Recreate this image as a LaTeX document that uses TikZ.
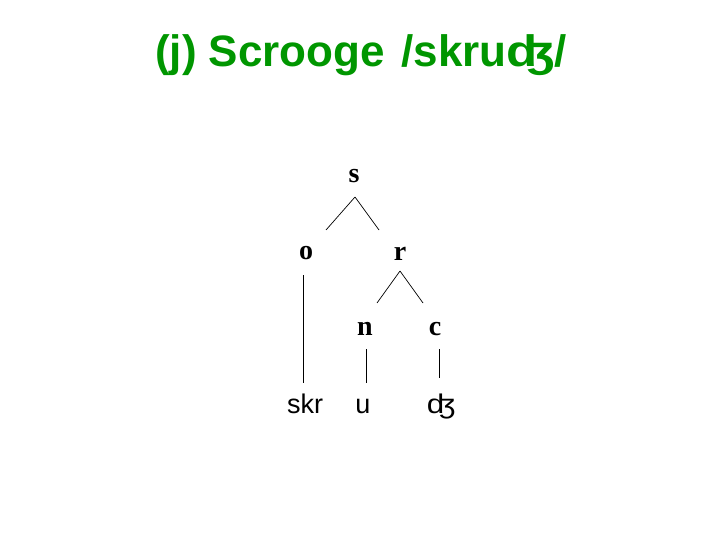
\documentclass[tikz,border=0pt]{standalone}
\usepackage{fontspec}
\usepackage{graphicx}
\setmainfont{Liberation Serif}
\setsansfont{Liberation Sans}
\usetikzlibrary{positioning, calc}

\definecolor{titlegreen}{RGB}{0,150,0}
\newcommand{\dzh}{\scalebox{1.16}[1]{\char"02A4}}
\tikzset{
  sylnode/.style={anchor=base, inner sep=0pt, font=\fontsize{28}{28}\selectfont\bfseries},
  segnode/.style={anchor=base, inner sep=0pt, font=\fontsize{27}{27}\selectfont\sffamily},
  branch/.style={line width=0.7pt}
}

\begin{document}
\begin{tikzpicture}[x=1pt, y=-1pt]
			\useasboundingbox (0,0) rectangle (720,540);
			\node (title) [anchor=base west, inner sep=0pt, text=titlegreen, font=\fontsize{44}{44}\selectfont\sffamily\bfseries] at (155,67) {(j) Scrooge\hspace{0.1em} /skru\dzh/};
			
			\node (s) [sylnode] at (354,183) {s};
			\node (o) [sylnode] at (306,259) {o};
			\node (r) [sylnode] at (400,260) {r};
			\node (n) [sylnode] at (365,335) {n};
			\node (c) [sylnode] at (435,335) {c};
			
			\node (skr) [segnode] at (305,413) {skr};
			\node (u) [segnode] at (363,413) {u};
			\node (dz) [segnode] at (441,413) {\dzh};
			
			\draw [branch] ($(s.base)+(1,14)$) -- ($(o.base)+(20,-29)$);
			\draw [branch] ($(s.base)+(1,14)$) -- ($(r.base)+(-21,-30)$);
			\draw [branch] ($(r.base)+(0,11)$) -- ($(n.base)+(12,-32)$);
			\draw [branch] ($(r.base)+(0,11)$) -- ($(c.base)+(-12,-32)$);
			
			\draw [branch] ($(o.base)+(-3,16)$) -- ($(skr.base)+(-2,-30)$);
			\draw [branch] ($(n.base)+(1,14)$) -- ($(u.base)+(3,-30)$);
			\draw [branch] ($(c.base)+(4,14)$) -- ($(dz.base)+(-2,-35)$);
		\end{tikzpicture}
\end{document}
